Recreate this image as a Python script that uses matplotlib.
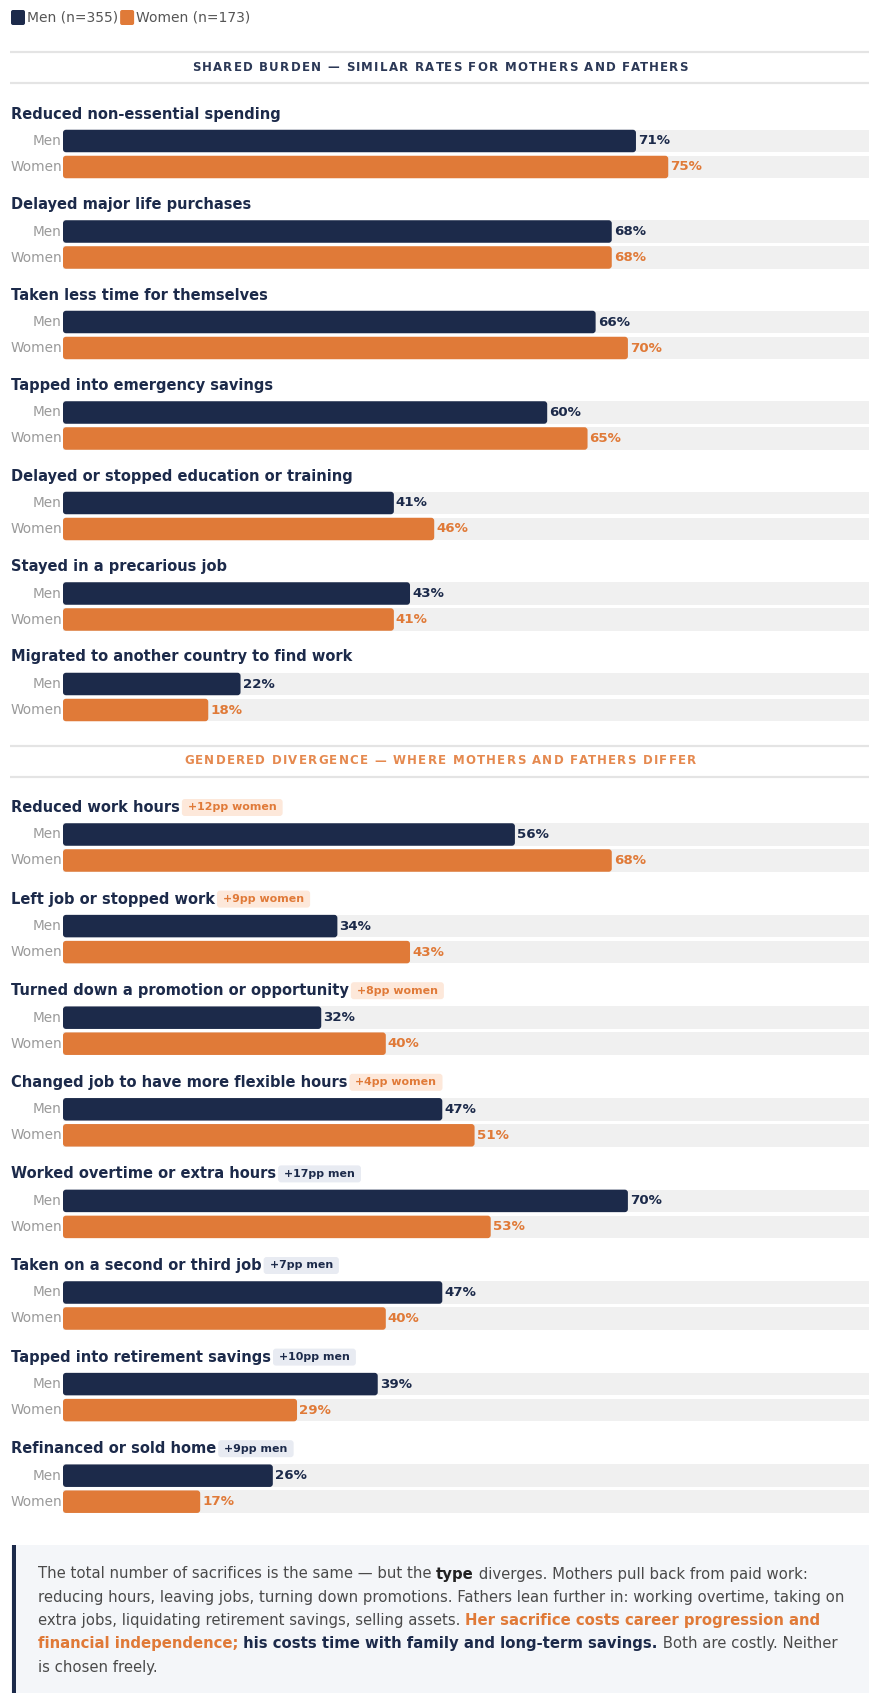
import matplotlib
matplotlib.use("Agg")
import matplotlib.pyplot as plt
from matplotlib.patches import FancyBboxPatch, Rectangle

# colours
NAVY = "#1c2a4a"
ORANGE = "#e07a38"
TRACK = "#f0f0f0"
ROW_LABEL = "#9a9a9a"
BODY = "#4a4a4a"
RULE = "#e4e4e4"

legend_labels = ["Men (n=355)", "Women (n=173)"]

shared_title = "SHARED BURDEN — SIMILAR RATES FOR MOTHERS AND FATHERS"
shared_items = [
    "Reduced non-essential spending",
    "Delayed major life purchases",
    "Taken less time for themselves",
    "Tapped into emergency savings",
    "Delayed or stopped education or training",
    "Stayed in a precarious job",
    "Migrated to another country to find work",
]
shared_men = [71, 68, 66, 60, 41, 43, 22]
shared_women = [75, 68, 70, 65, 46, 41, 18]

gap_title = "GENDERED DIVERGENCE — WHERE MOTHERS AND FATHERS DIFFER"
gap_items = [
    "Reduced work hours",
    "Left job or stopped work",
    "Turned down a promotion or opportunity",
    "Changed job to have more flexible hours",
    "Worked overtime or extra hours",
    "Taken on a second or third job",
    "Tapped into retirement savings",
    "Refinanced or sold home",
]
gap_men = [56, 34, 32, 47, 70, 47, 39, 26]
gap_women = [68, 43, 40, 51, 53, 40, 29, 17]

note_lines = [
    [("The total number of sacrifices is the same — but the ", "normal", BODY),
     ("type", "bold", "#222222"),
     (" diverges. Mothers pull back from paid work:", "normal", BODY)],
    [("reducing hours, leaving jobs, turning down promotions. Fathers lean further in: working overtime, taking on",
      "normal", BODY)],
    [("extra jobs, liquidating retirement savings, selling assets. ", "normal", BODY),
     ("Her sacrifice costs career progression and", "bold", ORANGE)],
    [("financial independence;", "bold", ORANGE),
     (" his costs time with family and long-term savings.", "bold", NAVY),
     (" Both are costly. Neither", "normal", BODY)],
    [("is chosen freely.", "normal", BODY)],
]

W, H = 870, 1693
X0 = 63          # left edge of the bar tracks (px)
BAR_H = 22.5

fig = plt.figure(figsize=(W / 100, H / 100), dpi=100)
ax = fig.add_axes([0, 0, 1, 1])
ax.set_xlim(0, W)
ax.set_ylim(H, 0)
ax.axis("off")

bx = fig.add_axes([X0 / W, 0, (W - X0) / W, 1])
bx.set_xlim(0, 100)
bx.set_ylim(H, 0)
bx.axis("off")
PX_PER_PCT = (W - X0) / 100

renderer = fig.canvas.get_renderer()


def text_width(s, **kw):
    # pipes keep leading/trailing spaces in the measurement
    if not s:
        return 0.0
    t = ax.text(0, 0, "|" + s + "|", **kw)
    w = t.get_window_extent(renderer).width
    t.remove()
    t = ax.text(0, 0, "||", **kw)
    w -= t.get_window_extent(renderer).width
    t.remove()
    return w


def spaced_text(x, y, s, spacing, **kw):
    # draw text glyph by glyph with extra tracking; offsets come from prefix widths
    for i, ch in enumerate(s):
        if ch != " ":
            ax.text(x + text_width(s[:i], **kw) + i * spacing, y, ch,
                    ha="left", va="center", **kw)


def spaced_width(s, spacing, **kw):
    return text_width(s, **kw) + spacing * (len(s) - 1)


def round_bars(bars):
    for r in bars:
        x, y = r.get_xy()
        p = FancyBboxPatch((x, y), r.get_width(), r.get_height(),
                           boxstyle="round,pad=0,rounding_size=0.38",
                           mutation_aspect=PX_PER_PCT,
                           fc=r.get_facecolor(), ec="none", zorder=r.get_zorder())
        r.remove()
        bx.add_patch(p)


# legend
lx = 11
for label, col in zip(legend_labels, [NAVY, ORANGE]):
    ax.add_patch(FancyBboxPatch((lx, 10), 14, 15, boxstyle="round,pad=0,rounding_size=2",
                                fc=col, ec="none"))
    ax.text(lx + 16, 17.5, label, ha="left", va="center", fontsize=10, color="#555555")
    lx += 16 + text_width(label, fontsize=10) + 2


def draw_section(top, title, title_col, items, men, women, step, badges):
    ax.hlines([top, top + 31], 10, W, color=RULE, lw=1.6)
    hw = spaced_width(title, 1.25, fontsize=8.5, fontweight="bold")
    spaced_text(440 - hw / 2, top + 15.5, title, 1.25,
                fontsize=8.5, fontweight="bold", color=title_col)
    for i, item in enumerate(items):
        ty = top + 62 + i * step
        ax.text(11, ty, item, ha="left", va="center", fontsize=10.5,
                fontweight="bold", color=NAVY)
        if badges:
            diff = women[i] - men[i]
            who = "women" if diff > 0 else "men"
            badge = f"+{abs(diff)}pp {who}"
            fg, bg = (ORANGE, "#fde8da") if diff > 0 else (NAVY, "#e8ebf2")
            bx0 = 11 + text_width(item, fontsize=10.5, fontweight="bold") + 2
            bw = text_width(badge, fontsize=7.9, fontweight="bold")
            ax.add_patch(FancyBboxPatch((bx0, ty - 8.5), bw + 12, 17,
                                        boxstyle="round,pad=0,rounding_size=3",
                                        fc=bg, ec="none"))
            ax.text(bx0 + 6, ty, badge, ha="left", va="center", fontsize=7.9,
                    fontweight="bold", color=fg)
        ym, yw = ty + 27, ty + 53
        bx.barh([ym, yw], [100, 100], height=BAR_H, color=TRACK, zorder=1)
        bars = bx.barh([ym, yw], [men[i], women[i]], height=BAR_H,
                       color=[NAVY, ORANGE], zorder=2)
        round_bars(bars)
        for yy, lab, v, col in [(ym, "Men", men[i], NAVY), (yw, "Women", women[i], ORANGE)]:
            ax.text(X0 - 1, yy, lab, ha="right", va="center", fontsize=9.8, color=ROW_LABEL)
            bx.text(v + 0.25, yy, f"{v}%", ha="left", va="center", fontsize=9.6,
                    fontweight="bold", color=col)


draw_section(52, shared_title, "#2b3856", shared_items, shared_men, shared_women, 90.5, False)
draw_section(745.5, gap_title, "#e5894f", gap_items, gap_men, gap_women, 91.6, True)

# closing note
ax.add_patch(Rectangle((11, 1545), W - 11, H - 1545, fc="#f4f6f9", ec="none"))
ax.add_patch(Rectangle((12, 1545), 4, H - 1545, fc=NAVY, ec="none"))
for k, runs in enumerate(note_lines):
    x = 38
    y = 1574 + k * 23.3
    for s, weight, col in runs:
        ax.text(x, y, s, ha="left", va="center", fontsize=10.7, fontweight=weight, color=col)
        x += text_width(s, fontsize=10.7, fontweight=weight)

fig.savefig("out.png", dpi=100)
